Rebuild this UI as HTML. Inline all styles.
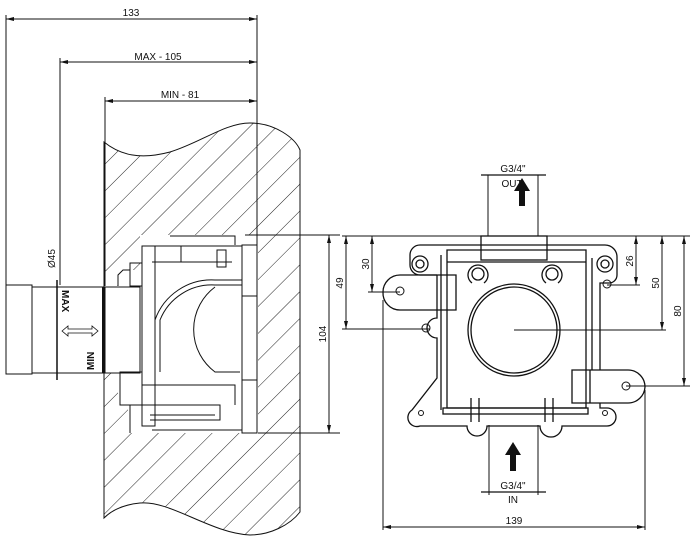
<!DOCTYPE html>
<html><head><meta charset="utf-8"><style>
html,body{margin:0;padding:0;background:#fff;width:694px;height:537px;overflow:hidden}
svg text{font-family:"Liberation Sans",sans-serif;font-size:10px;fill:#111}
</style></head><body>
<svg width="694" height="537" viewBox="0 0 694 537" xmlns="http://www.w3.org/2000/svg">
<defs>
<pattern id="h" patternUnits="userSpaceOnUse" width="19" height="19" patternTransform="rotate(45)">
<line x1="0" y1="0" x2="0" y2="19" stroke="#222" stroke-width="1"/>
</pattern>
<marker id="a" markerWidth="8" markerHeight="6" refX="8" refY="3" orient="auto-start-reverse" markerUnits="userSpaceOnUse">
<path d="M0,1 L8,3 L0,5 Z" fill="#111"/></marker>
</defs>
<g stroke="#111" fill="none" stroke-width="1">
<!-- wall -->
<path d="M104,142 C120,155 140,160 170,152 C200,143 225,123 250,123 C275,123 295,138 300,150 L300,512 C290,525 270,535 250,535 C210,533 170,500 140,503 C120,505 110,512 104,518 Z" fill="url(#h)"/>
<path d="M140,235 H258 V433 H128 V400 H118 V373 H105 V286 H118 V270 H140 Z" fill="#fff" stroke="none"/>
<line x1="257" y1="15" x2="257" y2="433"/>
<line x1="258" y1="433" x2="340" y2="433"/>
<line x1="245" y1="235" x2="340" y2="235"/>
<!-- dims top -->
<line x1="6" y1="19" x2="257" y2="19" marker-start="url(#a)" marker-end="url(#a)"/>
<line x1="6" y1="15" x2="6" y2="286"/>
<line x1="60" y1="62" x2="257" y2="62" marker-start="url(#a)" marker-end="url(#a)"/>
<line x1="60" y1="58" x2="60" y2="285"/>
<line x1="105" y1="101" x2="257" y2="101" marker-start="url(#a)" marker-end="url(#a)"/>
<line x1="105" y1="97" x2="105" y2="286"/>
<!-- pipe -->
<rect x="6" y="285" width="26" height="89"/>
<rect x="32" y="287" width="73" height="86"/>
<line x1="57" y1="280" x2="57" y2="380" stroke-width="1.5"/>
<line x1="103" y1="287" x2="103" y2="373" stroke-width="2"/>
<path d="M62,331 l6,-5 v3 h24 v-3 l6,5 l-6,5 v-3 h-24 v3 z" stroke-width="0.8"/>
<!-- box internals -->
<rect x="105" y="287" width="35" height="86"/>
<rect x="130" y="263" width="12" height="23"/>
<path d="M118,286 V275 l5,-5 h7"/>
<rect x="142" y="246" width="13" height="180"/>
<path d="M170,236 H235 V245 M152,246 H242 V430 H152 M152,262 H232 M181,246 V262"/>
<rect x="217" y="250" width="9" height="17"/>
<rect x="242" y="245" width="15" height="188"/>
<path d="M242,296 H257 M242,380 H257"/>
<path d="M155,372 V320 A60,60 0 0 1 215,280 H242" />
<path d="M160,372 V320 A56,56 0 0 1 215,285 H242"/>
<path d="M240,372 H215 A53,53 0 0 1 215,287"/>
<rect x="120" y="372" width="22" height="33"/>
<path d="M142,385 H235 V405 M142,405 H220 V420 H150 M130,405 V433 M150,415 H215"/>
<!-- dim 104 -->
<line x1="329" y1="235" x2="329" y2="433" marker-start="url(#a)" marker-end="url(#a)"/>
<!-- right view dims -->
<line x1="342" y1="236" x2="690" y2="236"/>
<line x1="346" y1="236" x2="346" y2="329" marker-start="url(#a)" marker-end="url(#a)"/>
<line x1="342" y1="329" x2="430" y2="329"/>
<line x1="372" y1="236" x2="372" y2="292" marker-start="url(#a)" marker-end="url(#a)"/>
<line x1="368" y1="292" x2="400" y2="292"/>
<line x1="636" y1="236" x2="636" y2="285" marker-start="url(#a)" marker-end="url(#a)"/>
<line x1="607" y1="285" x2="640" y2="285"/>
<line x1="662" y1="236" x2="662" y2="330" marker-start="url(#a)" marker-end="url(#a)"/>
<line x1="514" y1="330" x2="666" y2="330"/>
<line x1="684" y1="236" x2="684" y2="386" marker-start="url(#a)" marker-end="url(#a)"/>
<line x1="626" y1="386" x2="690" y2="386"/>
<line x1="383" y1="300" x2="383" y2="530"/>
<line x1="645" y1="390" x2="645" y2="530"/>
<line x1="383" y1="527" x2="645" y2="527" marker-start="url(#a)" marker-end="url(#a)"/>
<!-- OUT -->
<line x1="488" y1="175" x2="488" y2="236"/>
<line x1="538" y1="175" x2="538" y2="236"/>
<line x1="481" y1="175" x2="546" y2="175" stroke-width="1.2"/>
<!-- IN -->
<line x1="489" y1="425" x2="489" y2="495"/>
<line x1="538" y1="425" x2="538" y2="495"/>
<line x1="481" y1="492" x2="546" y2="492" stroke-width="1.2"/>
<!-- body -->
<g stroke-width="1.3">
<path d="M420,245 H605 A12,12 0 0 1 617,257 V275 A8,8 0 0 1 609,283 H600 V370 M600,403 V408 H607 A9,9 0 0 1 607,426 H562 A10,10 0 0 1 540,426 H487 A10,10 0 0 1 467,426 H420 A9,9 0 0 1 412,410 L437,378 V338 A9,9 0 0 1 437,318 V310 M437,275 H420 A10,10 0 0 1 410,265 V255 A10,10 0 0 1 420,245"/>
<path d="M447,250 H586 V408 H447 Z"/>
<path d="M447,262 H586"/>
<path d="M441,255 V410 M592,258 V370"/>
<rect x="481" y="236" width="66" height="24"/>
<rect x="443" y="408" width="145" height="6"/>
<path d="M383,292 A17,17 0 0 1 400,275 H456 V310 H400 A17,17 0 0 1 383,292"/>
<line x1="437" y1="275" x2="437" y2="310"/>
<path d="M645,387 A17,17 0 0 1 628,403 H572 V370 H628 A17,17 0 0 1 645,387"/>
<line x1="590" y1="370" x2="590" y2="403"/>
<circle cx="514" cy="330" r="46"/>
<circle cx="514" cy="330" r="43"/>
<path d="M472,283 A10,10 0 1 1 484,283 M546,283 A10,10 0 1 1 558,283"/>
<circle cx="478" cy="274" r="6"/>
<circle cx="552" cy="274" r="6"/>
<circle cx="420" cy="264" r="8"/><circle cx="420" cy="264" r="4"/>
<circle cx="605" cy="264" r="8"/><circle cx="605" cy="264" r="4"/>
<path d="M471,398 V422 M479,398 V422 M545,398 V422 M553,398 V422"/>
</g>
<circle cx="400" cy="291" r="4"/>
<circle cx="426" cy="328" r="4"/>
<circle cx="607" cy="284" r="4"/>
<circle cx="626" cy="386" r="4"/>
<circle cx="421" cy="413" r="2.5"/>
<circle cx="605" cy="413" r="2.5"/>
</g>
<!-- arrows -->
<path d="M522,178 L530,191 H525 V206 H519 V191 H514 Z" fill="#111"/>
<path d="M513,442 L521,455 H516 V471 H510 V455 H505 Z" fill="#111"/>
<text x="131" y="16" text-anchor="middle">133</text>
<text x="158" y="60" text-anchor="middle">MAX - 105</text>
<text x="180" y="98" text-anchor="middle">MIN - 81</text>
<text transform="translate(55,268) rotate(-90)" font-size="10">Ø45</text>
<text transform="translate(62,290) rotate(90)" font-weight="bold" font-size="11">MAX</text>
<text transform="translate(94,370) rotate(-90)" font-weight="bold" font-size="11">MIN</text>
<text transform="translate(326,334) rotate(-90)" text-anchor="middle">104</text>
<text transform="translate(343,283) rotate(-90)" text-anchor="middle">49</text>
<text transform="translate(369,264) rotate(-90)" text-anchor="middle">30</text>
<text transform="translate(633,261) rotate(-90)" text-anchor="middle">26</text>
<text transform="translate(659,283) rotate(-90)" text-anchor="middle">50</text>
<text transform="translate(681,311) rotate(-90)" text-anchor="middle">80</text>
<text x="513" y="172" text-anchor="middle">G3/4"</text>
<text x="512" y="187" text-anchor="middle">OUT</text>
<text x="513" y="489" text-anchor="middle">G3/4"</text>
<text x="513" y="503" text-anchor="middle">IN</text>
<text x="514" y="524" text-anchor="middle">139</text>
</svg>
</body></html>
